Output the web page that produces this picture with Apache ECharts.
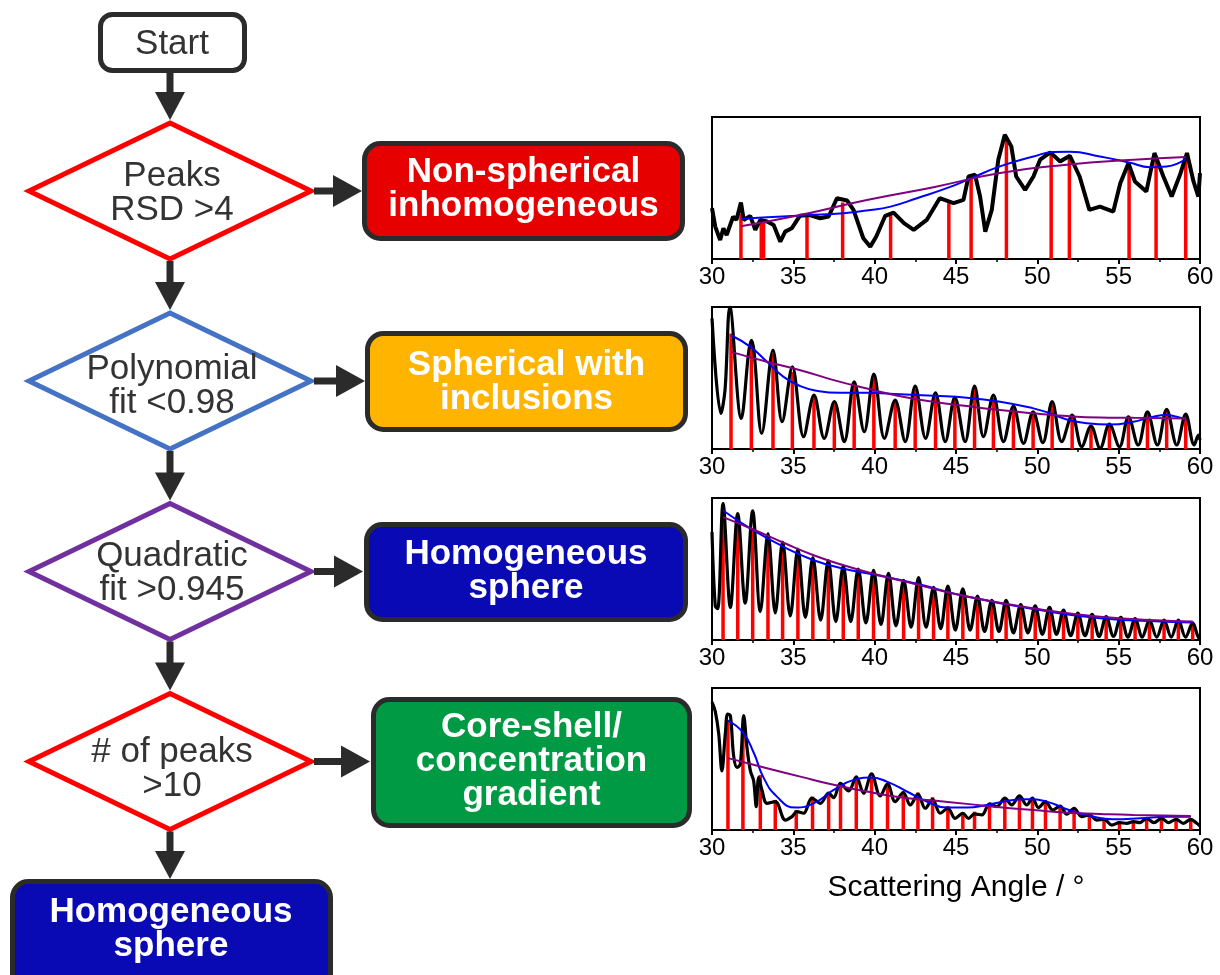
<!DOCTYPE html>
<html>
<head>
<meta charset="utf-8">
<script src="https://cdn.jsdelivr.net/npm/echarts@6/dist/echarts.min.js"></script>
<style>
  html, body { margin: 0; padding: 0; background: #fff; }
  #chart { width: 1220px; height: 975px; }
</style>
</head>
<body>
<div id="chart"></div>
<script>
// ---- data (x = scattering angle in degrees, y = relative intensity 0-100) ----
const angleTicks = [30, 35, 40, 45, 50, 55, 60]

const decisionLabels = ['Peaks\nRSD >4', 'Polynomial\nfit <0.98', 'Quadratic\nfit >0.945', '# of peaks\n>10']
const outcomeLabels = ['Non-spherical\ninhomogeneous', 'Spherical with\ninclusions', 'Homogeneous\nsphere', 'Core-shell/\nconcentration\ngradient']
const finalLabel = 'Homogeneous\nsphere'

// panel 1: non-spherical inhomogeneous
const signal1 = [
  [30.0, 35.8], [30.2, 22.8], [30.5, 13.4], [30.7, 21.6], [30.9, 16.9], [31.3, 29.9], [31.5, 27.5],
  [31.78, 39.8], [31.95, 27.5], [32.35, 30.4], [32.66, 20.5], [32.97, 27.5], [33.38, 26.4], [33.79, 24],
  [34.2, 12.2], [34.5, 19.3], [34.9, 21.6], [35.4, 30.4], [36.0, 31], [36.65, 28.7], [37.17, 29.9],
  [37.68, 42.8], [38.3, 41.2], [38.7, 34.6], [39.3, 14.6], [39.73, 8.7], [40.1, 15.8], [40.65, 30.4],
  [41.16, 32.7], [41.8, 25.2], [42.4, 20.5], [43.2, 27.5], [44.0, 42.8], [44.85, 39.3], [45.46, 41.6],
  [45.77, 58.1], [46.17, 59.3], [46.48, 44], [46.8, 19.3], [47.2, 34.6], [47.6, 69.9], [48.0, 87.5],
  [48.4, 79.3], [48.7, 58.1], [49.25, 48.7], [49.76, 58.1], [50.17, 69.9], [50.8, 75.1], [51.4, 68.7],
  [52.0, 72.7], [52.6, 58.1], [53.2, 34.6], [53.85, 36.9], [54.67, 33.4], [55.1, 53.4], [55.6, 67.5],
  [56.0, 54.6], [56.7, 47.5], [57.2, 74.6], [57.75, 58.1], [58.26, 44], [58.77, 59.3], [59.2, 74.6],
  [59.6, 54.6], [59.9, 44], [60.0, 60.5]
]
const peaks1 = [
  [31.78, 31.8], [33.03, 26.4], [33.17, 26.4], [35.84, 30.4], [38.03, 39.8], [40.98, 32.7], [44.56, 39.3],
  [45.93, 59.3], [48.1, 85.9], [50.85, 73.4], [51.97, 71], [55.64, 67.5], [57.3, 70.4], [59.12, 70.4]
]
const fit1 = [
  [31.78, 28.2], [33.4, 29.4], [35.84, 30.8], [38.1, 32.2], [39.5, 34.1], [40.98, 36.9], [42.6, 42.8],
  [44.6, 50.6], [45.93, 56.9], [47.7, 65.2], [49.76, 72.2], [50.99, 75.3], [52.0, 75.5], [53.85, 72.2],
  [55.64, 68], [56.93, 64.7], [57.95, 65.2], [59.12, 70.4]
]
const quad1 = [
  [31.78, 23.1], [35.43, 31], [39.52, 41.6], [43.62, 50.6], [47.71, 60.5], [51.81, 66.4], [55.91, 69.9], [59.12, 71.8]
]

// panel 2: spherical with inclusions
const signal2 = [
  [30.0, 92], [30.55, 25], [30.8, 41.5], [31.1, 100], [31.8, 21.5], [32.42, 76.6], [32.58, 69], [33.06, 11],
  [33.75, 69.6], [34.31, 19.2], [34.94, 57.8], [35.63, 8.7], [36.27, 37.9], [36.9, 7.5], [37.52, 33.3],
  [38.13, 5.2], [38.74, 47.3], [39.36, 12.2], [39.95, 52.7], [40.6, 7.5], [41.26, 34.4], [41.88, 5.2],
  [42.49, 44.3], [43.13, 7.5], [43.74, 39.6], [44.34, 5.2], [44.93, 36.3], [45.56, 5.2], [46.14, 44.3],
  [46.69, 8.7], [47.3, 37.9], [47.92, 5.2], [48.53, 30.2], [49.15, 4], [49.74, 26.2], [50.34, 4.4],
  [50.91, 33.3], [51.5, 5.2], [52.14, 23.9], [52.73, 1.6], [53.3, 16.2], [53.86, 0.5], [54.43, 17.6],
  [55.05, 1.6], [55.6, 22.7], [56.2, 2.8], [56.77, 26.2], [57.38, 2.8], [57.95, 27.9], [58.57, 2.8],
  [59.12, 24.6], [59.64, 2.8], [59.9, 9.8], [60.0, 6.3]
]
const peaks2 = [
  [31.17, 81.3], [32.42, 74.2], [33.75, 67.2], [34.94, 54.3], [36.27, 36.8], [37.52, 32.1], [38.74, 46.1],
  [39.95, 52], [41.26, 33.3], [42.49, 42.6], [43.74, 37.9], [44.93, 34.9], [46.14, 43.3], [47.3, 36.3],
  [48.53, 29.3], [49.74, 26.2], [50.91, 31.6], [52.14, 23.9], [53.3, 15.7], [54.43, 17.6], [55.6, 22.7],
  [56.77, 25.5], [57.95, 27.4], [59.12, 23.9]
]
const fit2 = [
  [31.17, 80.1], [32.36, 71.9], [33.38, 61.4], [34.4, 50.8], [35.43, 44.3], [36.45, 41], [37.89, 39.6],
  [39.52, 39.6], [41.57, 38.6], [43.62, 37.5], [45.67, 36.1], [47.71, 33.3], [49.76, 28.6], [50.79, 25.1],
  [51.81, 20.8], [52.83, 18.5], [54.47, 17.3], [55.91, 19.2], [56.93, 22.2], [57.95, 23.9], [58.57, 22.7], [59.12, 20.8]
]
const quad2 = [
  [31.17, 68.4], [33.38, 61.4], [35.43, 55.5], [37.48, 48.5], [39.52, 42.6], [41.57, 37.2], [43.62, 33.3],
  [45.67, 30.2], [47.71, 27.4], [49.76, 25.1], [51.81, 23.2], [53.86, 22.2], [55.91, 22], [59.12, 21.5]
]

// panel 3: homogeneous sphere
const signal3 = [
  [30.0, 76], [30.2, 24], [30.35, 22], [30.68, 96], [31.13, 23], [31.58, 89], [32.04, 26], [32.5, 91],
  [32.97, 20], [33.44, 75], [33.89, 19], [34.34, 69], [34.81, 17], [35.28, 64], [35.74, 16], [36.2, 58],
  [36.68, 14], [37.15, 56], [37.61, 13], [38.07, 52], [38.53, 13], [38.99, 50], [39.46, 12], [39.93, 49],
  [40.39, 11], [40.85, 47], [41.31, 10], [41.78, 42], [42.24, 9], [42.7, 44], [43.16, 9], [43.62, 37],
  [44.06, 8], [44.5, 38], [44.96, 7], [45.42, 36], [45.87, 7], [46.32, 31], [46.76, 6], [47.2, 28],
  [47.64, 6], [48.08, 28], [48.53, 5], [48.98, 25], [49.42, 5], [49.87, 24], [50.31, 4], [50.75, 23],
  [51.18, 4], [51.61, 21], [52.05, 3], [52.49, 19], [52.93, 3], [53.37, 18], [53.8, 2.5], [54.23, 16.5],
  [54.68, 2.5], [55.13, 16], [55.57, 2], [56.01, 15], [56.45, 2], [56.89, 14], [57.34, 2], [57.79, 14],
  [58.23, 2], [58.67, 14], [59.11, 2], [59.55, 12], [59.85, 3], [60.0, 0]
]
const peaks3 = [
  [30.68, 87], [31.58, 83.4], [32.5, 78.7], [33.44, 73.9], [34.34, 68], [35.28, 63.3], [36.2, 57.3],
  [37.15, 55], [38.07, 51.4], [38.99, 49.1], [39.93, 46.7], [40.85, 44.3], [41.78, 40.8], [42.7, 41.5],
  [43.62, 36], [44.5, 36], [45.42, 33.6], [46.32, 30.1], [47.2, 27.3], [48.08, 26.5], [48.98, 24.2],
  [49.87, 23], [50.75, 21.8], [51.61, 20.1], [52.49, 18.2], [53.37, 17.1], [54.23, 15.9], [55.13, 15.2],
  [56.01, 14.2], [56.89, 13.5], [57.79, 13.5], [58.67, 13], [59.55, 11.6]
]
const fit3 = [
  [30.68, 91.2], [32.5, 77.5], [34.4, 65.6], [36.25, 56.2], [38.09, 50.2], [39.93, 46.2], [42.59, 39.6],
  [45.67, 30.6], [49.76, 21.8], [53.86, 15.4], [57.95, 12.8], [59.55, 12.3]
]
const quad3 = [
  [30.68, 86.5], [32.5, 78], [34.4, 68.5], [36.25, 59.7], [38.09, 52.6], [39.93, 46.7], [42.59, 39.1],
  [45.67, 30.6], [49.76, 22.3], [53.86, 16.4], [57.95, 13.5], [59.55, 13]
]

// panel 4: core-shell / concentration gradient
const signal4 = [
  [30.0, 90], [30.2, 83.5], [30.41, 68], [30.61, 41.6], [30.82, 68], [30.96, 81.6], [31.13, 80.5],
  [31.33, 52.2], [31.54, 44], [31.74, 46.4], [31.95, 80.5], [32.15, 58], [32.36, 41.6], [32.56, 34.6],
  [32.72, 16.5], [32.87, 37], [33.07, 28.2], [33.38, 18.8], [33.89, 20], [34.51, 7], [34.92, 9.4],
  [35.22, 12.9], [35.63, 11.8], [36.14, 22.4], [36.66, 18.8], [37.17, 25.9], [37.48, 22.8], [37.89, 32.9],
  [38.4, 27.5], [38.87, 37.4], [39.32, 25.9], [39.81, 39.5], [40.34, 24], [40.79, 32.5], [41.26, 20],
  [41.76, 26.4], [42.19, 17.6], [42.66, 25.2], [43.11, 15.3], [43.56, 21.6], [44.03, 11.8], [44.5, 15.3],
  [44.95, 8.2], [45.42, 11.8], [45.77, 8.2], [46.14, 11.3], [46.59, 10.6], [47.06, 18.4], [47.51, 16.5],
  [48.0, 22.4], [48.43, 17.6], [48.9, 24], [49.35, 17.6], [49.7, 22.4], [50.07, 15.8], [50.5, 20],
  [50.95, 14.1], [51.4, 16.9], [51.81, 11.1], [52.26, 15.3], [52.73, 9.4], [53.2, 10.6], [53.65, 7],
  [54.1, 7.5], [54.58, 3.5], [55.05, 5.2], [55.5, 4.7], [55.9, 5.9], [56.31, 5.2], [56.72, 8.2],
  [57.17, 5.2], [57.63, 8.2], [58.06, 5.2], [58.53, 7.5], [58.98, 4.7], [59.43, 7.5], [59.8, 4.7], [60.0, 2.8]
]
const peaks4 = [
  [30.98, 77.6], [31.9, 70.6], [32.97, 38.8], [33.89, 21.2], [35.18, 14.1], [36.18, 23.5], [37.17, 25.9],
  [37.9, 31.8], [38.87, 36.5], [39.81, 37.6], [40.79, 31.8], [41.76, 27.1], [42.66, 26.4], [43.56, 23.1],
  [44.5, 16.9], [45.42, 11.8], [46.14, 12.9], [47.06, 17.6], [48.0, 23.1], [48.9, 24], [49.7, 22.4],
  [50.5, 20], [51.4, 17.6], [52.26, 15.3], [53.2, 10.6], [54.1, 7.5], [55.05, 5.9], [55.9, 5.9],
  [56.72, 7.5], [57.63, 7.5], [58.53, 8.2], [59.43, 8.2]
]
const fit4 = [
  [30.98, 77], [31.9, 68.7], [32.56, 54.6], [33.17, 36.9], [33.99, 23.5], [35.12, 15.8], [36.25, 18.8],
  [37.48, 28.2], [38.71, 35.3], [39.73, 36.9], [40.75, 34.1], [41.98, 27.1], [43.21, 20], [44.44, 15.8],
  [45.67, 15.8], [46.9, 17.6], [48.12, 20.5], [49.35, 21.6], [50.58, 20], [51.81, 14.6], [53.04, 10.6],
  [54.68, 7.5], [56.32, 8.2], [57.95, 9.4], [59.43, 9.4]
]
const quad4 = [
  [30.98, 50.6], [33.38, 43.5], [35.43, 37.6], [37.48, 31.8], [39.52, 27.1], [41.57, 23.1], [43.62, 20.7],
  [45.67, 18.4], [47.71, 16], [49.76, 14.1], [51.81, 12.2], [53.86, 11.3], [55.91, 10.6], [59.43, 9.9]
]

const panels = [
  { signal: signal1, peaks: peaks1, fit: fit1, quad: quad1 },
  { signal: signal2, peaks: peaks2, fit: fit2, quad: quad2 },
  { signal: signal3, peaks: peaks3, fit: fit3, quad: quad3 },
  { signal: signal4, peaks: peaks4, fit: fit4, quad: quad4 }
]

// ---- layout ----
const FONT = '"Liberation Sans", Arial, Helvetica, sans-serif'
const INK = '#2b2b2b'
const gridTops = [117, 307, 498, 688]

const chart = echarts.init(document.getElementById('chart'), null, { renderer: 'canvas' })

const grids = gridTops.map(top => ({
  left: 712, top, width: 488, height: 142,
  show: true, borderColor: '#000', borderWidth: 2, backgroundColor: 'transparent'
}))

const xAxes = gridTops.map((_, i) => ({
  gridIndex: i,
  type: 'value',
  min: angleTicks[0],
  max: angleTicks[angleTicks.length - 1],
  interval: angleTicks[1] - angleTicks[0],
  axisLine: { show: true, onZero: false, lineStyle: { color: '#000', width: 2 } },
  axisTick: { show: true, inside: false, length: 5, lineStyle: { color: '#000', width: 2 } },
  minorTick: { show: true, splitNumber: 2, length: 3, lineStyle: { color: '#000', width: 1.5 } },
  axisLabel: { color: '#000', fontSize: 24, fontFamily: FONT, margin: 6 },
  splitLine: { show: false },
  name: i === 3 ? 'Scattering Angle / °' : '',
  nameLocation: 'middle',
  nameGap: 43,
  nameTextStyle: { color: '#000', fontSize: 30, fontFamily: FONT, verticalAlign: 'top' }
}))

const yAxes = gridTops.map((_, i) => ({
  gridIndex: i, type: 'value', min: 0, max: 100, show: false
}))

const series = []
panels.forEach((p, i) => {
  series.push({
    type: 'line', xAxisIndex: i, yAxisIndex: i, data: p.signal,
    showSymbol: false, smooth: i === 0 ? false : 0.35, clip: true,
    lineStyle: { color: '#000', width: i === 0 ? 4 : 3.2 }
  })
  series.push({
    type: 'bar', xAxisIndex: i, yAxisIndex: i, data: p.peaks,
    barWidth: 3.5, itemStyle: { color: '#ff0000' }
  })
  series.push({
    type: 'line', xAxisIndex: i, yAxisIndex: i, data: p.fit,
    showSymbol: false, smooth: true, lineStyle: { color: '#0000ff', width: 2 }
  })
  series.push({
    type: 'line', xAxisIndex: i, yAxisIndex: i, data: p.quad,
    showSymbol: false, smooth: true, lineStyle: { color: '#800080', width: 2 }
  })
})

// ---- flowchart drawn with graphic elements ----
const CX = 170
const diamondCenters = [191, 381, 571.5, 761.5]
const diamondColors = ['#ff0000', '#4472c4', '#7030a0', '#ff0000']
const diamondTextY = [193, 386, 573, 769]
const boxes = [
  { x: 364.5, y: 143.5, w: 318, h: 95, fill: '#e60000', ty: 189, tip: 362 },
  { x: 367.5, y: 333.5, w: 318, h: 96, fill: '#ffb400', ty: 382, tip: 365 },
  { x: 366.5, y: 524.5, w: 319, h: 95, fill: '#0a0ab4', ty: 571, tip: 363 },
  { x: 373.5, y: 699.5, w: 316, h: 126, fill: '#009a44', ty: 761, tip: 370 }
]

function vArrow(y0, tip) {
  return [
    { type: 'rect', shape: { x: CX - 3.5, y: y0, width: 7, height: tip - 27 - y0 }, style: { fill: INK } },
    { type: 'polygon', shape: { points: [[CX - 15, tip - 28], [CX + 15, tip - 28], [CX, tip]] }, style: { fill: INK } }
  ]
}
function hArrow(x0, y, tip) {
  return [
    { type: 'rect', shape: { x: x0, y: y - 3.5, width: tip - 27 - x0, height: 7 }, style: { fill: INK } },
    { type: 'polygon', shape: { points: [[tip - 29, y - 16], [tip - 29, y + 16], [tip, y]] }, style: { fill: INK } }
  ]
}
function label(text, x, y, color, bold) {
  return {
    type: 'text', x, y, z: 10,
    style: {
      text, fill: color, align: 'center', verticalAlign: 'middle',
      fontSize: 35, fontFamily: FONT, fontWeight: bold ? 'bold' : 'normal', lineHeight: 34
    }
  }
}

const graphics = []
// start box
graphics.push({ type: 'rect', shape: { x: 100.5, y: 14.5, width: 144, height: 56, r: 12 }, style: { fill: '#fff', stroke: INK, lineWidth: 5 } })
graphics.push(label('Start', 172, 44, '#333', false))
graphics.push(...vArrow(71, 120))

diamondCenters.forEach((cy, i) => {
  graphics.push({
    type: 'polygon',
    shape: { points: [[CX, cy - 68], [CX + 141, cy], [CX, cy + 68], [CX - 141, cy]] },
    style: { fill: '#fff', stroke: diamondColors[i], lineWidth: 5, lineJoin: 'miter', miterLimit: 10 }
  })
  graphics.push(label(decisionLabels[i], CX + 2, diamondTextY[i], '#333', false))
  const b = boxes[i]
  graphics.push(...hArrow(CX + 144, cy, b.tip))
  graphics.push({ type: 'rect', shape: { x: b.x, y: b.y, width: b.w, height: b.h, r: 16 }, style: { fill: b.fill, stroke: INK, lineWidth: 5 } })
  graphics.push(label(outcomeLabels[i], b.x + b.w / 2, b.ty, '#fff', true))
  const nextTip = i < 3 ? diamondCenters[i + 1] - 71 : 879
  graphics.push(...vArrow(cy + 70, nextTip))
})

// final outcome box (runs off the bottom edge)
graphics.push({ type: 'rect', shape: { x: 12.5, y: 881.5, width: 318, height: 120, r: 16 }, style: { fill: '#0a0ab4', stroke: INK, lineWidth: 5 } })
graphics.push(label(finalLabel, 171, 929, '#fff', true))

chart.setOption({
  animation: false,
  backgroundColor: '#fff',
  grid: grids,
  xAxis: xAxes,
  yAxis: yAxes,
  series,
  graphic: graphics
})

window.addEventListener('resize', () => chart.resize())
</script>
</body>
</html>
